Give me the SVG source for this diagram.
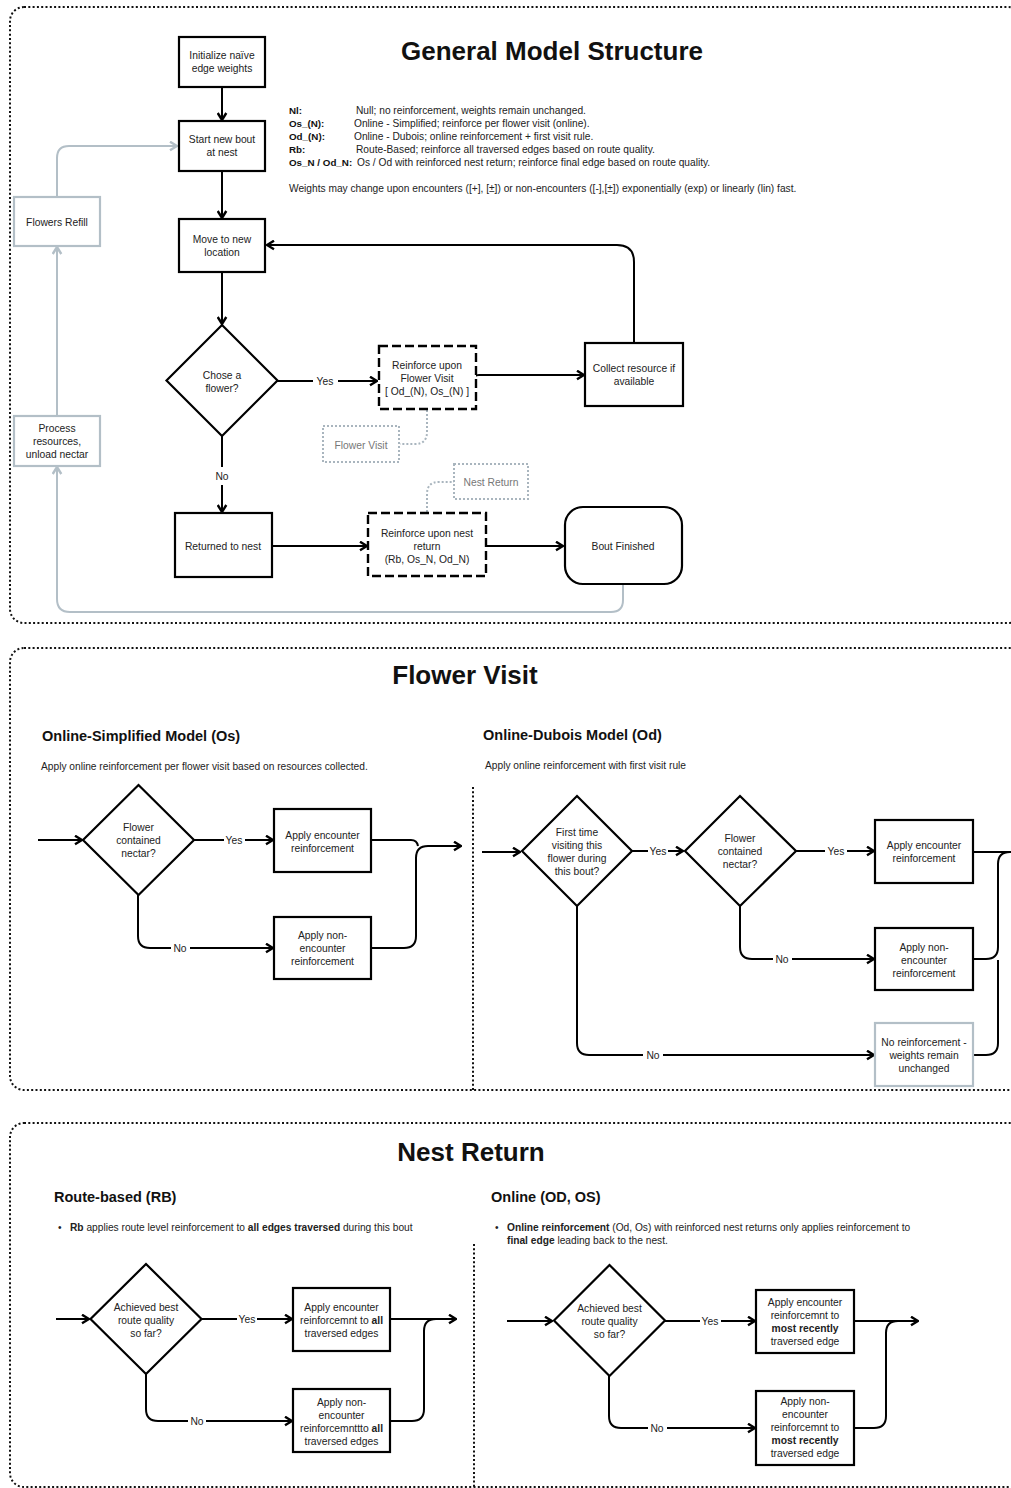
<svg xmlns="http://www.w3.org/2000/svg" width="1011" height="1488" viewBox="0 0 1011 1488">
<defs>
<style>
.t{font-family:"Liberation Sans",Arial,sans-serif;font-size:10.3px;fill:#222;text-anchor:middle}
.l{font-family:"Liberation Sans",Arial,sans-serif;font-size:10.2px;fill:#222}
.lb{font-family:"Liberation Sans",Arial,sans-serif;font-size:9.8px;font-weight:bold;fill:#111}
.b{font-weight:bold}
.h1{font-family:"Liberation Sans",Arial,sans-serif;font-size:26px;font-weight:bold;fill:#111;text-anchor:middle}
.h2{font-family:"Liberation Sans",Arial,sans-serif;font-size:14.5px;font-weight:bold;fill:#111}
.gt{fill:#777}
.n{fill:#fff;stroke:#000;stroke-width:2.2}
.gn{fill:#fff;stroke:#b3bfc7;stroke-width:2.2}
.dn{fill:#fff;stroke:#000;stroke-width:2.4;stroke-dasharray:9 4}
.dg{fill:none;stroke:#a9b5be;stroke-width:2;stroke-dasharray:2 2}
.c{fill:none;stroke:#000;stroke-width:2}
.ca{fill:none;stroke:#000;stroke-width:2;marker-end:url(#ah)}
.g{fill:none;stroke:#b3bfc7;stroke-width:2}
.ga{fill:none;stroke:#b3bfc7;stroke-width:2;marker-end:url(#gh)}
.sec{fill:none;stroke:#111;stroke-width:2;stroke-dasharray:2 2.3}
</style>
<marker id="ah" viewBox="0 0 11 11" refX="10" refY="5.5" markerWidth="11" markerHeight="11" markerUnits="userSpaceOnUse" orient="auto"><path d="M3,1.2 L10,5.5 L3,9.8" fill="none" stroke="#000" stroke-width="2.4"/></marker>
<marker id="gh" viewBox="0 0 11 11" refX="10" refY="5.5" markerWidth="11" markerHeight="11" markerUnits="userSpaceOnUse" orient="auto"><path d="M3,1.2 L10,5.5 L3,9.8" fill="none" stroke="#b3bfc7" stroke-width="2.4"/></marker>
</defs>
<rect width="1011" height="1488" fill="#fff"/>

<g id="sections">
<rect class="sec" x="10" y="7" width="1012" height="616" rx="14"/>
<rect class="sec" x="10" y="648" width="1040" height="442" rx="14"/>
<rect class="sec" x="10" y="1123" width="1040" height="364" rx="14"/>
<path class="sec" d="M473 787 V1090"/>
<path class="sec" d="M474 1244 V1488"/>
</g>

<g id="titles">
<text class="h1" x="552" y="60">General Model Structure</text>
<text class="h1" x="465" y="684">Flower Visit</text>
<text class="h1" x="471" y="1161">Nest Return</text>
<text class="h2" x="42" y="741">Online-Simplified Model (Os)</text>
<text class="h2" x="483" y="740">Online-Dubois Model (Od)</text>
<text class="h2" x="54" y="1202">Route-based (RB)</text>
<text class="h2" x="491" y="1202">Online (OD, OS)</text>
<text class="l" x="41" y="769.5">Apply online reinforcement per flower visit based on resources collected.</text>
<text class="l" x="485" y="768.5">Apply online reinforcement with first visit rule</text>
<text class="l" x="58" y="1230.5">•</text>
<text class="l" x="70" y="1230.5"><tspan class="b">Rb</tspan> applies route level reinforcement to <tspan class="b">all edges traversed</tspan> during this bout</text>
<text class="l" x="495" y="1230.5">•</text>
<text class="l" x="507" y="1230.5"><tspan class="b">Online reinforcement</tspan> (Od, Os) with reinforced nest returns only applies reinforcement to</text>
<text class="l" x="507" y="1243.5"><tspan class="b">final edge</tspan> leading back to the nest.</text>
</g>

<g id="legend">
<text class="lb" x="289" y="113.5">Nl:</text>
<text class="l" x="356" y="113.5">Null; no reinforcement, weights remain unchanged.</text>
<text class="lb" x="289" y="126.5">Os_(N):</text>
<text class="l" x="354" y="126.5">Online - Simplified; reinforce per flower visit (online).</text>
<text class="lb" x="289" y="139.5">Od_(N):</text>
<text class="l" x="354" y="139.5">Online - Dubois; online reinforcement + first visit rule.</text>
<text class="lb" x="289" y="152.5">Rb:</text>
<text class="l" x="356" y="152.5">Route-Based; reinforce all traversed edges based on route quality.</text>
<text class="lb" x="289" y="165.5">Os_N / Od_N:</text>
<text class="l" x="357" y="165.5">Os / Od with reinforced nest return; reinforce final edge based on route quality.</text>
<text class="l" x="289" y="191.5">Weights may change upon encounters ([+], [±]) or non-encounters ([-],[±]) exponentially (exp) or linearly (lin) fast.</text>
</g>

<g id="connectors">
<path class="ca" d="M222 87 V120"/>
<path class="ca" d="M222 171 V218"/>
<path class="ca" d="M222 272 V324"/>
<path class="c" d="M277 381 H313"/>
<path class="ca" d="M338 381 H377"/>
<path class="ca" d="M473 381 Q473 375 479 375 H584"/>
<path class="ca" d="M634 343 V262 Q634 245 617 245 H267"/>
<path class="c" d="M222 436 V467"/>
<path class="ca" d="M222 485 V512"/>
<path class="ca" d="M272 546 H367"/>
<path class="ca" d="M486 546 H563"/>
<path class="ga" d="M623 584 V600 Q623 612 611 612 H70 Q57 612 57 599 V467"/>
<path class="ga" d="M57 416 V247"/>
<path class="ga" d="M57 197 V158 Q57 146 69 146 H177"/>
<path class="dg" d="M427 410 V432 Q427 444 415 444 H400"/>
<path class="dg" d="M427 512 V494 Q427 482 439 482 H454"/>

<path class="ca" d="M38 840 H82"/>
<path class="c" d="M194 840 H224"/>
<path class="ca" d="M245 840 H273"/>
<path class="c" d="M138 895 V936 Q138 948 150 948 H171"/>
<path class="ca" d="M190 948 H273"/>
<path class="c" d="M371 840 H411 Q417 840 418 846"/>
<path class="ca" d="M371 948 H404 Q416 948 416 936 V858 Q416 846 428 846 H461"/>

<path class="ca" d="M482 852 H520"/>
<path class="c" d="M632 851 H648"/>
<path class="ca" d="M668 851 H683"/>
<path class="c" d="M796 851 H825"/>
<path class="ca" d="M847 851 H874"/>
<path class="c" d="M740 906 V947 Q740 959 752 959 H773"/>
<path class="ca" d="M792 959 H874"/>
<path class="c" d="M577 906 V1043 Q577 1055 589 1055 H643"/>
<path class="ca" d="M663 1055 H874"/>
<path class="c" d="M973 852 H1015"/>
<path class="c" d="M973 959 H986 Q998 959 998 947 V864 Q998 852 1010 852 H1015"/>
<path class="c" d="M973 1055 H986 Q998 1055 998 1043 V960"/>

<path class="ca" d="M56 1319 H89"/>
<path class="c" d="M202 1319 H237"/>
<path class="ca" d="M257 1319 H292"/>
<path class="c" d="M146 1374 V1409 Q146 1421 158 1421 H188"/>
<path class="ca" d="M206 1421 H292"/>
<path class="ca" d="M390 1319 H456"/>
<path class="c" d="M390 1421 H412 Q424 1421 424 1409 V1331 Q424 1319 436 1319"/>

<path class="ca" d="M507 1321 H552"/>
<path class="c" d="M665 1321 H700"/>
<path class="ca" d="M721 1321 H755"/>
<path class="c" d="M609 1376 V1416 Q609 1428 621 1428 H648"/>
<path class="ca" d="M667 1428 H755"/>
<path class="ca" d="M854 1321 H918"/>
<path class="c" d="M854 1428 H874 Q886 1428 886 1416 V1333 Q886 1321 898 1321"/>
</g>

<g id="labels">
<text class="t" x="325" y="384.6">Yes</text>
<text class="t" x="222" y="479.6">No</text>
<text class="t" x="234" y="843.6">Yes</text>
<text class="t" x="180" y="951.6">No</text>
<text class="t" x="658" y="854.6">Yes</text>
<text class="t" x="836" y="854.6">Yes</text>
<text class="t" x="782" y="962.6">No</text>
<text class="t" x="653" y="1058.6">No</text>
<text class="t" x="247" y="1322.6">Yes</text>
<text class="t" x="197" y="1424.6">No</text>
<text class="t" x="710" y="1324.6">Yes</text>
<text class="t" x="657" y="1431.6">No</text>
</g>

<g id="n-init"><rect class="n" x="179" y="37" width="86" height="50"/><text class="t" x="222" y="59"><tspan x="222">Initialize naïve</tspan><tspan x="222" dy="13">edge weights</tspan></text></g>
<g id="n-start"><rect class="n" x="179" y="121" width="86" height="50"/><text class="t" x="222" y="143"><tspan x="222">Start new bout</tspan><tspan x="222" dy="13">at nest</tspan></text></g>
<g id="n-move"><rect class="n" x="179" y="219" width="86" height="53"/><text class="t" x="222" y="242.6"><tspan x="222">Move to new</tspan><tspan x="222" dy="13">location</tspan></text></g>
<g id="n-chose"><path class="n" d="M222 325 L277.5 380.5 L222 436 L166.5 380.5 Z"/><text class="t" x="222" y="378.6"><tspan x="222">Chose a</tspan><tspan x="222" dy="13">flower?</tspan></text></g>
<g id="n-rfv"><rect class="dn" x="379" y="346" width="97" height="63"/><text class="t" x="427" y="368.6"><tspan x="427">Reinforce upon</tspan><tspan x="427" dy="13">Flower Visit</tspan><tspan x="427" dy="13">[ Od_(N), Os_(N) ]</tspan></text></g>
<g id="n-collect"><rect class="n" x="585" y="343" width="98" height="63"/><text class="t" x="634" y="371.6"><tspan x="634">Collect resource if</tspan><tspan x="634" dy="13">available</tspan></text></g>
<g id="n-fvtag"><rect class="dg" x="323" y="426" width="76" height="36"/><text class="t gt" x="361" y="448.6">Flower Visit</text></g>
<g id="n-nrtag"><rect class="dg" x="454" y="464" width="74" height="35"/><text class="t gt" x="491" y="485.6">Nest Return</text></g>
<g id="n-returned"><rect class="n" x="175" y="513" width="97" height="64"/><text class="t" x="223" y="549.6">Returned to nest</text></g>
<g id="n-rnr"><rect class="dn" x="368" y="513" width="118" height="63"/><text class="t" x="427" y="536.6"><tspan x="427">Reinforce upon nest</tspan><tspan x="427" dy="13">return</tspan><tspan x="427" dy="13">(Rb, Os_N, Od_N)</tspan></text></g>
<g id="n-bout"><rect class="n" x="565" y="507" width="117" height="77" rx="18"/><text class="t" x="623" y="549.6">Bout Finished</text></g>
<g id="n-refill"><rect class="gn" x="14" y="197" width="86" height="49"/><text class="t" x="57" y="225.6">Flowers Refill</text></g>
<g id="n-process"><rect class="gn" x="14" y="416" width="86" height="50"/><text class="t" x="57" y="431.6"><tspan x="57">Process</tspan><tspan x="57" dy="13">resources,</tspan><tspan x="57" dy="13">unload nectar</tspan></text></g>

<g id="n-os-d"><path class="n" d="M138.5 785 L194 840 L138.5 895 L83 840 Z"/><text class="t" x="138.5" y="830.6"><tspan x="138.5">Flower</tspan><tspan x="138.5" dy="13">contained</tspan><tspan x="138.5" dy="13">nectar?</tspan></text></g>
<g id="n-os-enc"><rect class="n" x="274" y="809" width="97" height="63"/><text class="t" x="322.5" y="838.6"><tspan x="322.5">Apply encounter</tspan><tspan x="322.5" dy="13">reinforcement</tspan></text></g>
<g id="n-os-non"><rect class="n" x="274" y="917" width="97" height="62"/><text class="t" x="322.5" y="938.6"><tspan x="322.5">Apply non-</tspan><tspan x="322.5" dy="13">encounter</tspan><tspan x="322.5" dy="13">reinforcement</tspan></text></g>

<g id="n-od-d1"><path class="n" d="M577 796 L632 851 L577 906 L522 851 Z"/><text class="t" x="577" y="835.6"><tspan x="577">First time</tspan><tspan x="577" dy="13">visiting this</tspan><tspan x="577" dy="13">flower during</tspan><tspan x="577" dy="13">this bout?</tspan></text></g>
<g id="n-od-d2"><path class="n" d="M740 796 L796 851 L740 906 L685 851 Z"/><text class="t" x="740" y="841.6"><tspan x="740">Flower</tspan><tspan x="740" dy="13">contained</tspan><tspan x="740" dy="13">nectar?</tspan></text></g>
<g id="n-od-enc"><rect class="n" x="875" y="820" width="98" height="63"/><text class="t" x="924" y="848.6"><tspan x="924">Apply encounter</tspan><tspan x="924" dy="13">reinforcement</tspan></text></g>
<g id="n-od-non"><rect class="n" x="875" y="928" width="98" height="62"/><text class="t" x="924" y="950.6"><tspan x="924">Apply non-</tspan><tspan x="924" dy="13">encounter</tspan><tspan x="924" dy="13">reinforcement</tspan></text></g>
<g id="n-od-none"><rect class="gn" x="875" y="1023" width="98" height="63"/><text class="t" x="924" y="1045.6"><tspan x="924">No reinforcement -</tspan><tspan x="924" dy="13">weights remain</tspan><tspan x="924" dy="13">unchanged</tspan></text></g>

<g id="n-rb-d"><path class="n" d="M146 1264 L201.5 1319 L146 1374 L90.5 1319 Z"/><text class="t" x="146" y="1310.6"><tspan x="146">Achieved best</tspan><tspan x="146" dy="13">route quality</tspan><tspan x="146" dy="13">so far?</tspan></text></g>
<g id="n-rb-enc"><rect class="n" x="293" y="1288" width="97" height="63"/><text class="t" x="341.5" y="1310.6"><tspan x="341.5">Apply encounter</tspan><tspan x="341.5" dy="13">reinforcemnt to <tspan class="b">all</tspan></tspan><tspan x="341.5" dy="13">traversed edges</tspan></text></g>
<g id="n-rb-non"><rect class="n" x="293" y="1389" width="97" height="63"/><text class="t" x="341.5" y="1405.6"><tspan x="341.5">Apply non-</tspan><tspan x="341.5" dy="13">encounter</tspan><tspan x="341.5" dy="13">reinforcemnttto <tspan class="b">all</tspan></tspan><tspan x="341.5" dy="13">traversed edges</tspan></text></g>

<g id="n-on-d"><path class="n" d="M609.5 1265 L665 1320.5 L609.5 1376 L554 1320.5 Z"/><text class="t" x="609.5" y="1311.6"><tspan x="609.5">Achieved best</tspan><tspan x="609.5" dy="13">route quality</tspan><tspan x="609.5" dy="13">so far?</tspan></text></g>
<g id="n-on-enc"><rect class="n" x="756" y="1290" width="98" height="63"/><text class="t" x="805" y="1306.3"><tspan x="805">Apply encounter</tspan><tspan x="805" dy="13">reinforcemnt to</tspan><tspan x="805" dy="13" class="b">most recently</tspan><tspan x="805" dy="13">traversed edge</tspan></text></g>
<g id="n-on-non"><rect class="n" x="756" y="1391" width="98" height="74"/><text class="t" x="805" y="1405.3"><tspan x="805">Apply non-</tspan><tspan x="805" dy="13">encounter</tspan><tspan x="805" dy="13">reinforcemnt to</tspan><tspan x="805" dy="13" class="b">most recently</tspan><tspan x="805" dy="13">traversed edge</tspan></text></g>
</svg>
